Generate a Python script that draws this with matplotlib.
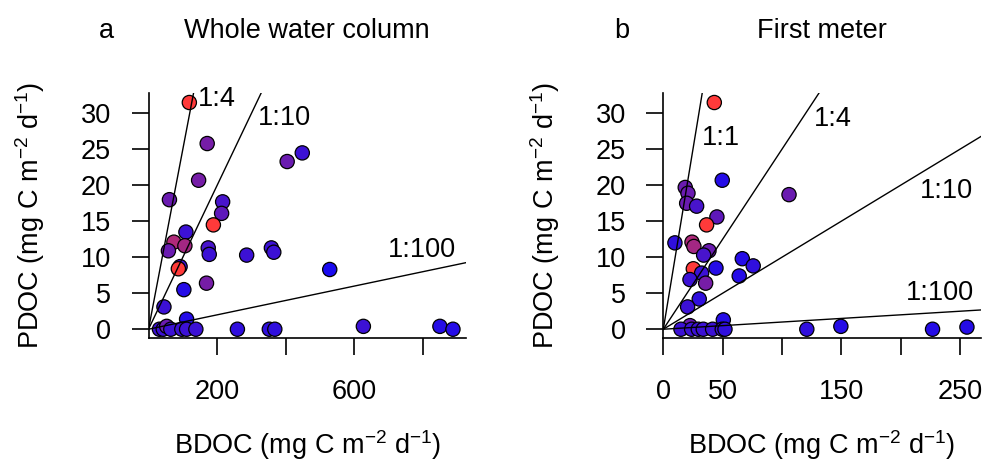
import numpy as np
import matplotlib
matplotlib.use("Agg")
import matplotlib.pyplot as plt
from matplotlib.colors import LinearSegmentedColormap

plt.rcParams['font.family'] = ['Liberation Sans', 'DejaVu Sans']
plt.rcParams['mathtext.fontset'] = 'custom'
plt.rcParams['mathtext.rm'] = 'Liberation Sans'
plt.rcParams['mathtext.it'] = 'Liberation Sans'
plt.rcParams['mathtext.default'] = 'regular'

# panel a : whole water column
bdoc_a = [119, 171, 146, 61, 404, 448, 216, 213, 189, 109, 74, 106, 58, 174, 177,
          286, 358, 365, 528, 92, 87, 103, 169, 45, 111, 626, 849, 887,
          32, 43, 53, 65, 97, 111, 138, 259, 352, 368]
pdoc_a = [31.5, 25.8, 20.7, 18.0, 23.3, 24.5, 17.7, 16.1, 14.5, 13.5, 12.1, 11.6, 10.9, 11.3, 10.4,
          10.3, 11.3, 10.7, 8.3, 8.7, 8.4, 5.5, 6.4, 3.1, 1.4, 0.4, 0.4, 0.0,
          0.0, 0.0, 0.4, 0.0, 0.0, 0.0, 0.0, 0.0, 0.0, 0.0]
shade_a = [1.0, 0.4, 0.4, 0.35, 0.35, 0.15, 0.2, 0.3, 1.0, 0.15, 0.65, 0.6, 0.35, 0.2, 0.15,
           0.15, 0.15, 0.15, 0.0, 0.15, 1.0, 0.05, 0.4, 0.15, 0.05, 0.15, 0.05, 0.05,
           0.15, 0.15, 0.35, 0.15, 0.15, 0.15, 0.15, 0.1, 0.1, 0.1]

# panel b : first meter
bdoc_b = [43, 49.7, 18.5, 20.8, 19.7, 28.1, 45.2, 36.5, 106, 9.8, 24.2, 25.8, 38.5, 34,
          66.6, 75.8, 44.4, 25.3, 32.3, 64, 22.5, 35.7, 30.3, 20.5, 50.6, 22.5,
          14.9, 23.9, 29.5, 33.7, 41.6, 49.7, 52, 121, 149.7, 227, 256]
pdoc_b = [31.5, 20.7, 19.7, 18.9, 17.5, 17.1, 15.6, 14.5, 18.7, 12.0, 12.1, 11.5, 10.9, 10.3,
          9.8, 8.8, 8.5, 8.4, 7.8, 7.4, 6.9, 6.4, 4.2, 3.1, 1.3, 0.5,
          0.0, 0.0, 0.0, 0.0, 0.0, 0.0, 0.0, 0.0, 0.4, 0.0, 0.3]
shade_b = [1.0, 0.05, 0.35, 0.35, 0.35, 0.2, 0.3, 1.0, 0.35, 0.1, 0.65, 0.6, 0.35, 0.2,
           0.05, 0.1, 0.05, 1.0, 0.15, 0.05, 0.15, 0.4, 0.1, 0.15, 0.05, 0.35,
           0.15, 0.15, 0.15, 0.15, 0.15, 0.15, 0.1, 0.1, 0.05, 0.05, 0.05]

ratios_a = [4, 10, 100]
ratios_b = [1, 4, 10, 100]
# label positions (BDOC, PDOC) for each ratio line
lab_a = [(198, 31.0), (397, 28.4), (796, 10.1)]
lab_b = [(48.5, 25.6), (143, 28.2), (239, 18.2), (233, 4.1)]

xticks_a = [200, 400, 600, 800]
xlabels_a = ['200', '', '600', '']
xticks_b = [0, 50, 100, 150, 200, 250]
xlabels_b = ['0', '50', '', '150', '', '250']
yticks = [0, 5, 10, 15, 20, 25, 30]

cmap = LinearSegmentedColormap.from_list('br', ['#1a0af0', '#ff3a3a'])
unit = r'(mg C m$^{-2}$ d$^{-1}$)'
FS = 19.5

fig = plt.figure(figsize=(9.84, 4.61), dpi=100)
W, H = 984, 461


def panel(x0, x1, xmax, bdoc, pdoc, shade, ratios, labs, xt, xl, letter, title):
    ax = fig.add_axes([x0 / W, 1 - 338.3 / H, (x1 - x0) / W, (338.3 - 93.3) / H])
    ax.scatter(bdoc, pdoc, s=105, c=cmap(np.array(shade)), edgecolors='black',
               linewidths=0.9, zorder=2, clip_on=False)
    xx = np.array([0, xmax])
    for r, (lx, ly) in zip(ratios, labs):
        ax.plot(xx, xx / r, color='black', lw=1.0, zorder=3)
        ax.text(lx, ly, '1:%d' % r, ha='center', va='baseline', fontsize=FS)
    ax.set_xlim(0, xmax)
    ax.set_ylim(-1.26, 32.78)
    for s in ['top', 'right']:
        ax.spines[s].set_visible(False)
    for s in ['left', 'bottom']:
        ax.spines[s].set_linewidth(1.2)
    ax.set_xticks(xt)
    ax.set_xticklabels(xl)
    ax.set_yticks(yticks)
    ax.tick_params(axis='both', labelsize=FS, length=12, width=1.2)
    ax.tick_params(axis='x', pad=17)
    ax.tick_params(axis='y', pad=15)
    cx = (x0 + x1) / 2
    fig.text(cx / W, 1 - 37.5 / H, title, ha='center', va='baseline', fontsize=FS)
    fig.text((x0 - 42) / W, 1 - 37.5 / H, letter, ha='center', va='baseline', fontsize=FS)
    fig.text(cx / W, 1 - 454 / H, 'BDOC ' + unit, ha='center', va='baseline', fontsize=FS)
    fig.text((x0 - 118) / W, 1 - 215 / H, 'PDOC ' + unit, ha='center', va='center',
             rotation=90, fontsize=FS)
    return ax


panel(148.5, 466, 925, bdoc_a, pdoc_a, shade_a, ratios_a, lab_a,
      xticks_a, xlabels_a, 'a', 'Whole water column')
panel(663.3, 980.7, 267.6, bdoc_b, pdoc_b, shade_b, ratios_b, lab_b,
      xticks_b, xlabels_b, 'b', 'First meter')

fig.savefig('out.png', dpi=100)
